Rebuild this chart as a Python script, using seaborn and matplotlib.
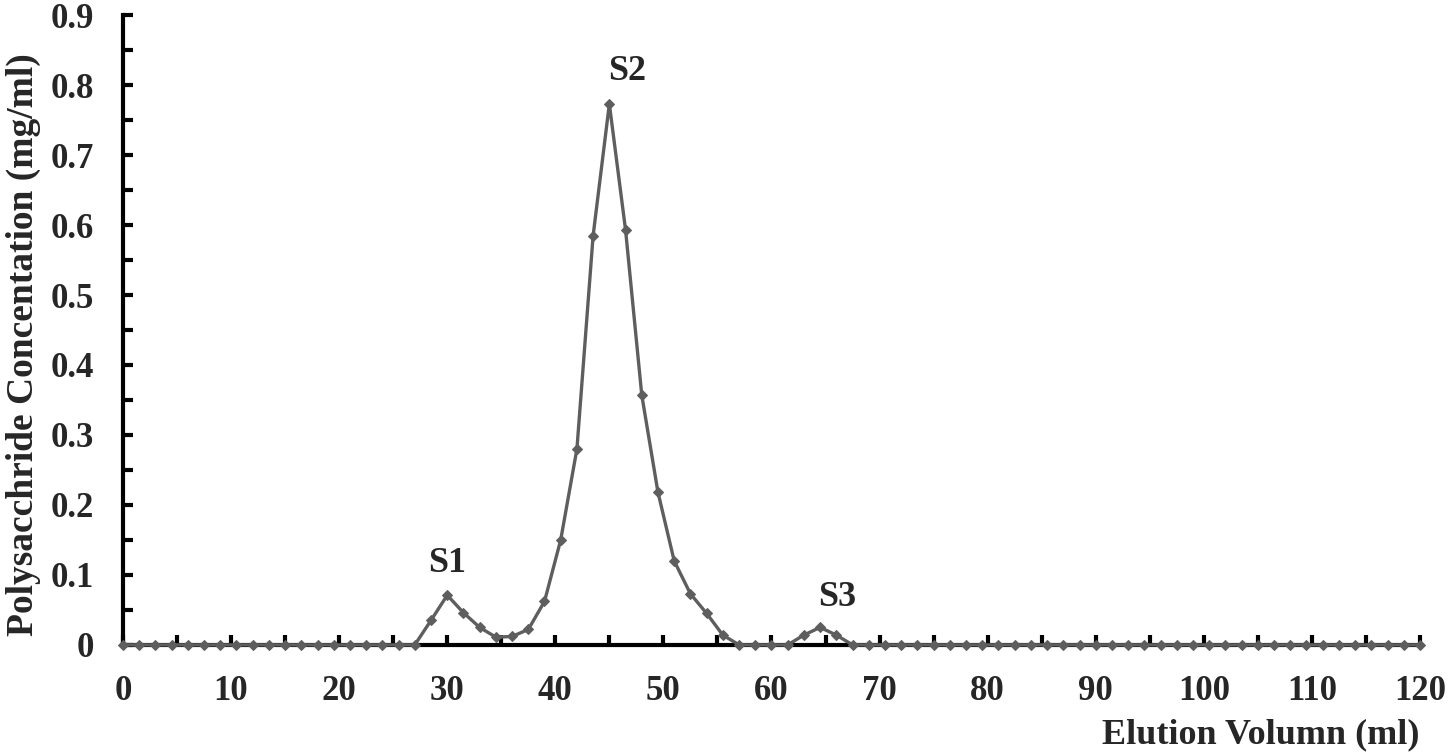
import numpy as np
import pandas as pd
import matplotlib
matplotlib.use("Agg")
import matplotlib.pyplot as plt
import seaborn as sns
from matplotlib.ticker import MultipleLocator

# elution volume (ml), one fraction every 1.5 ml
volume = [i * 1.5 for i in range(81)]

# concentrations read from the peaks (everything else is zero)
peak_volume = [28.5, 30, 31.5, 33, 34.5, 36, 37.5, 39, 40.5, 42, 43.5, 45, 46.5,
               48, 49.5, 51, 52.5, 54, 55.5, 63, 64.5, 66]
peak_conc = [0.035, 0.071, 0.046, 0.025, 0.011, 0.012, 0.022, 0.062, 0.150, 0.280,
             0.585, 0.773, 0.593, 0.357, 0.218, 0.120, 0.073, 0.045, 0.014,
             0.014, 0.025, 0.014]

peak_labels = ["S1", "S2", "S3"]
label_x = [30, 46.6, 66.1]
label_y = [0.117, 0.82, 0.067]

conc = []
for v in volume:
    conc.append(peak_conc[peak_volume.index(v)] if v in peak_volume else 0.0)

df = pd.DataFrame({"volume": volume, "conc": conc})

sns.set_style("ticks")
plt.rcParams["font.family"] = ["Liberation Serif", "DejaVu Serif"]
plt.rcParams["font.weight"] = "bold"

fig = plt.figure(figsize=(14.5, 7.56), dpi=100)
ax = fig.add_axes([0.0848, 0.147, 0.8945, 0.833])

sns.lineplot(data=df, x="volume", y="conc", ax=ax, color="#5e5e5e", linewidth=2.4,
             marker="D", markersize=5.5, markeredgecolor="#5e5e5e", zorder=3,
             clip_on=False)

for lab, lx, ly in zip(peak_labels, label_x, label_y):
    ax.text(lx, ly, lab, ha="center", va="center", fontsize=26, fontweight="bold")

ax.set_xlim(0, 120)
ax.set_ylim(0, 0.9)
ax.xaxis.set_major_locator(MultipleLocator(10))
ax.xaxis.set_minor_locator(MultipleLocator(5))
ax.yaxis.set_major_locator(MultipleLocator(0.1))
ax.yaxis.set_minor_locator(MultipleLocator(0.05))
ax.set_yticks(np.arange(0, 0.91, 0.1))
ax.set_yticklabels(["0"] + [f"{t:.1f}" for t in np.arange(0.1, 0.91, 0.1)])

for s in ["top", "right"]:
    ax.spines[s].set_visible(False)
for s in ["left", "bottom"]:
    ax.spines[s].set_linewidth(3)
    ax.spines[s].set_color("black")

ax.tick_params(axis="both", which="both", direction="in", length=7, width=3,
               color="black", labelsize=25)
ax.tick_params(axis="x", which="major", pad=22)
ax.tick_params(axis="y", which="major", pad=21)

ax.set_xlabel("Elution Volumn (ml)", fontsize=26, fontweight="bold", loc="right")
ax.set_ylabel("Polysacchride Concentation (mg/ml)", fontsize=27, fontweight="bold")
ax.xaxis.set_label_coords(1.0, -0.117)
ax.yaxis.set_label_coords(-0.063, 0.476)
for lab in ax.get_xticklabels() + ax.get_yticklabels():
    lab.set_fontweight("bold")

fig.savefig("out.png", dpi=100)
